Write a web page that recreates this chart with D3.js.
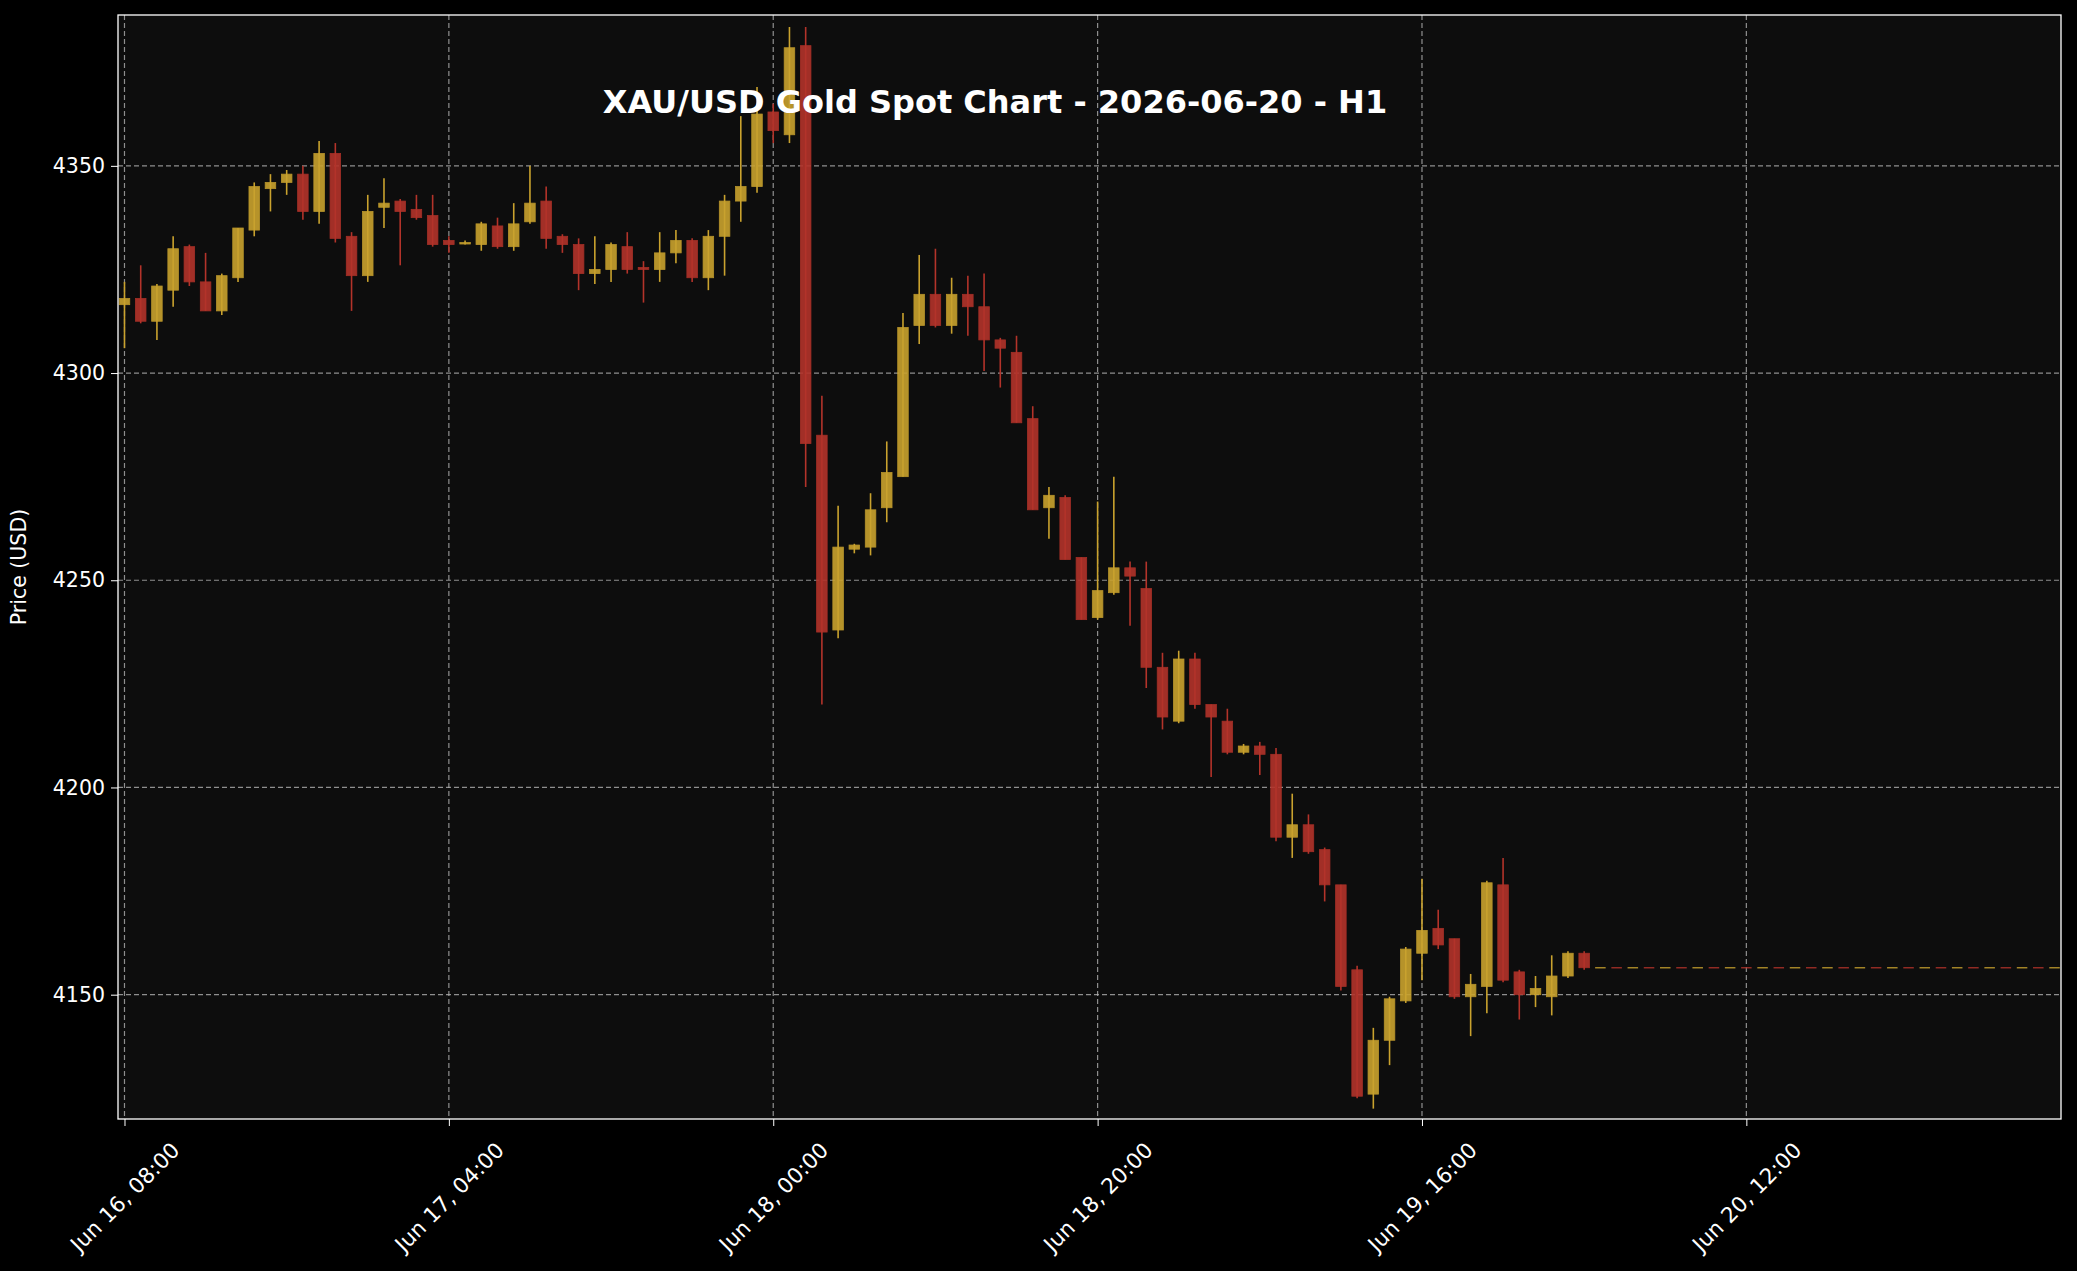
<!DOCTYPE html>
<html><head><meta charset="utf-8">
<script src="https://cdn.jsdelivr.net/npm/d3@7"></script>
<style>body{margin:0;background:#000;}svg{display:block;}</style>
</head><body>
<script>
const openP  = [4316.5,4318,4312.5,4320,4330.5,4322,4315,4323,4334.5,4344.5,4346,4348,4339,4353,4333,4323.5,4340,4341.5,4339.5,4338,4332,4331.5,4331,4335.5,4330.5,4336.5,4341.5,4333,4331,4324,4325,4330.5,4325.5,4325,4329,4332,4323,4333,4341.5,4345,4363,4357.5,4379,4285,4238,4257.5,4258,4267.5,4275,4311.5,4319,4311.5,4319,4316,4308,4305,4289,4267.5,4270,4255.5,4241,4247,4253,4248,4229,4216,4231,4220,4216,4208.5,4210,4208,4188,4191,4185,4176.5,4156,4126,4139,4148.5,4160,4166,4163.5,4149.5,4152,4176.5,4155.5,4150,4149.5,4154.5,4160];
const highP  = [4322,4326,4321.5,4333,4331,4329,4324,4335,4346,4348,4349,4350,4356,4355.5,4334,4343,4347,4342,4343,4343,4333,4332,4336.5,4337.5,4341,4350,4345,4333.5,4332.5,4333,4331.5,4334,4327,4334,4334.5,4332.5,4334.5,4343,4362,4369,4365,4383.5,4383.5,4294.5,4268,4258.8,4271,4283.5,4314.5,4328.5,4330,4323,4323.5,4324,4308.5,4309,4292,4272.5,4270.5,4255.5,4269,4275,4254.5,4254.5,4232.5,4233,4232.5,4220,4219,4210.5,4211,4209.5,4198.5,4193.5,4185.5,4176.5,4157,4142,4149.5,4161.5,4178,4170.5,4163.5,4155,4177.5,4183,4156,4154.5,4159.5,4160.5,4160.5];
const lowP   = [4306,4312,4308,4316,4321,4315,4314,4322,4333,4339,4343,4337,4336,4331.5,4315,4322,4335,4326,4337,4330.5,4329,4331,4329.5,4330,4329.5,4336,4330,4329,4320,4321.5,4322,4324,4317,4322,4326.5,4322,4320,4323.5,4336.5,4343.5,4355.5,4355.5,4272.5,4220,4236,4256.5,4256,4264,4275,4307,4311,4309.5,4309,4300.5,4296.5,4288,4267,4260,4255,4240.5,4240.5,4246.5,4239,4224,4214,4215.5,4219,4202.5,4208,4208,4203,4187,4183,4184,4172.5,4151,4125,4122.5,4133,4148,4153.5,4161,4149,4140,4145.5,4153,4144,4147,4145,4154,4156];
const closeP = [4318,4312.5,4321,4330,4322,4315,4323.5,4335,4345,4346,4348,4339,4353,4332.5,4323.5,4339,4341,4339,4337.5,4331,4331,4331.5,4336,4330.5,4336,4341,4332.5,4331,4324,4325,4331,4325,4325,4329,4332,4323,4333,4341.5,4345,4362.5,4358.5,4378.5,4283,4237.5,4258,4258.5,4267,4276,4311,4319,4311.5,4319,4316,4308,4306,4288,4267,4270.5,4255,4240.5,4247.5,4253,4251,4229,4217,4231,4220,4217,4208.5,4210,4208,4188,4191,4184.5,4176.5,4152,4125.5,4139,4149,4161,4165.5,4162,4149.5,4152.5,4177,4153.5,4150,4151.5,4154.5,4160,4156.5];
const futureHours = 29;   // flat projected bars after last close
const tickHours  = [0,20,40,60,80,100];
const tickLabels = ["Jun 16, 08:00","Jun 17, 04:00","Jun 18, 00:00","Jun 18, 20:00","Jun 19, 16:00","Jun 20, 12:00"];
const yTicks = [4150,4200,4250,4300,4350];

const W=2077,H=1271, L=118,R=2061,T=15,B=1119;
const gold="#c9a22e", red="#b3332a";
const svg=d3.select("body").append("svg").attr("width",W).attr("height",H);
svg.append("rect").attr("width",W).attr("height",H).attr("fill","#000");
svg.append("rect").attr("x",L).attr("y",T).attr("width",R-L).attr("height",B-T).attr("fill","#0d0d0d");
const x=d3.scaleLinear().domain([-0.4,119.4]).range([L,R]);
const y=d3.scaleLinear().domain([4120,4386.4]).range([B,T]);
const g=svg.append("g");
g.selectAll(".gx").data(tickHours).join("line").attr("x1",d=>x(d)).attr("x2",d=>x(d)).attr("y1",T).attr("y2",B)
 .attr("stroke","#b0b0b0").attr("stroke-width",1.2).attr("stroke-dasharray","5,3").attr("opacity",0.8);
g.selectAll(".gy").data(yTicks).join("line").attr("x1",L).attr("x2",R).attr("y1",d=>y(d)).attr("y2",d=>y(d))
 .attr("stroke","#b0b0b0").attr("stroke-width",1.2).attr("stroke-dasharray","5,3").attr("opacity",0.8);
const data=openP.map((o,i)=>({i,o,h:highP[i],l:lowP[i],c:closeP[i]}));
const last=closeP[closeP.length-1];
const fut=d3.range(futureHours).map(k=>({i:openP.length+k,o:last,h:last,l:last,c:last}));
const bw=(x(1)-x(0))*0.65;
const col=d=>d.c>=d.o?gold:red;
g.selectAll(".wk").data(data).join("line").attr("x1",d=>x(d.i)).attr("x2",d=>x(d.i)).attr("y1",d=>y(d.h)).attr("y2",d=>y(d.l))
 .attr("stroke",col).attr("stroke-width",1.6);
g.selectAll(".bd").data(data).join("rect").attr("x",d=>x(d.i)-bw/2).attr("width",bw)
 .attr("y",d=>y(Math.max(d.o,d.c))).attr("height",d=>Math.max(1.5,Math.abs(y(d.o)-y(d.c))))
 .attr("fill",col).attr("stroke",col).attr("stroke-width",0.8).attr("opacity",0.9);
g.selectAll(".ft").data(fut).join("line").attr("x1",d=>x(d.i)-bw/2).attr("x2",d=>x(d.i)+bw/2)
 .attr("y1",y(last)).attr("y2",y(last)).attr("stroke",(d,k)=>k%2?red:gold).attr("stroke-width",1.5).attr("opacity",0.8);
const ax=svg.append("g").attr("transform",`translate(0,${B})`)
 .call(d3.axisBottom(x).tickValues(tickHours).tickFormat((d,i)=>tickLabels[i]).tickSize(7));
ax.selectAll("text").attr("fill","#fff").style("font","21.5px 'DejaVu Sans'").attr("text-anchor","middle")
 .attr("x",0).attr("y",0).attr("dy","0.35em").attr("transform","translate(0,78) rotate(-45)");
const ay=svg.append("g").attr("transform",`translate(${L},0)`)
 .call(d3.axisLeft(y).tickValues(yTicks).tickFormat(d3.format("d")).tickSize(7).tickPadding(6));
ay.selectAll("text").attr("fill","#fff").style("font","20.5px 'DejaVu Sans'");
[ax,ay].forEach(a=>{a.selectAll("line").attr("stroke","#fff");a.select(".domain").remove();});
svg.append("rect").attr("x",L).attr("y",T).attr("width",R-L).attr("height",B-T).attr("fill","none").attr("stroke","#fff").attr("stroke-width",1.3);
svg.append("text").attr("transform",`translate(26,${(T+B)/2}) rotate(-90)`).attr("text-anchor","middle")
 .attr("fill","#fff").style("font","20.5px 'DejaVu Sans'").text("Price (USD)");
svg.append("text").attr("x",995).attr("y",113).attr("text-anchor","middle").attr("fill","#fff")
 .style("font","bold 32px 'DejaVu Sans'").text("XAU/USD Gold Spot Chart - 2026-06-20 - H1");
</script>
</body></html>
